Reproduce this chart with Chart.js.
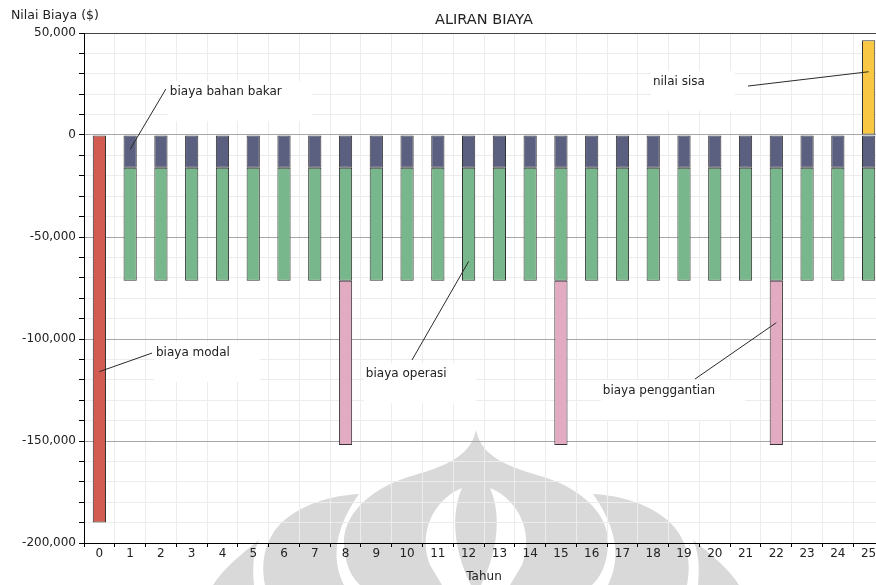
<!DOCTYPE html>
<html>
<head>
<meta charset="utf-8">
<title>Aliran Biaya</title>
<script src="https://cdn.jsdelivr.net/npm/chart.js@4.4.0/dist/chart.umd.min.js"></script>
<style>
  html, body { margin: 0; padding: 0; background: #fff; }
  #wrap { width: 876px; height: 585px; overflow: hidden; position: relative; }
  canvas { display: block; }
</style>
</head>
<body>
<div id="wrap"><canvas id="myChart" width="900" height="585"></canvas></div>
<script>
var tahun = ['0', '1', '2', '3', '4', '5', '6', '7', '8', '9', '10', '11', '12',
             '13', '14', '15', '16', '17', '18', '19', '20', '21', '22', '23', '24', '25'];

var biayaModal = [-190000, null, null, null, null, null, null, null, null, null, null, null, null,
                  null, null, null, null, null, null, null, null, null, null, null, null, null];

var bahanBakar = [null, -16000, -16000, -16000, -16000, -16000, -16000, -16000, -16000, -16000, -16000, -16000, -16000,
                  -16000, -16000, -16000, -16000, -16000, -16000, -16000, -16000, -16000, -16000, -16000, -16000, -16000];

var operasi = [null, -55500, -55500, -55500, -55500, -55500, -55500, -55500, -55500, -55500, -55500, -55500, -55500,
               -55500, -55500, -55500, -55500, -55500, -55500, -55500, -55500, -55500, -55500, -55500, -55500, -55500];

var penggantian = [null, null, null, null, null, null, null, null, -80500, null, null, null, null,
                   null, null, -80500, null, null, null, null, null, null, -80500, null, null, null];

var nilaiSisa = [null, null, null, null, null, null, null, null, null, null, null, null, null,
                 null, null, null, null, null, null, null, null, null, null, null, null, 46500];

// label text, point on bar (index, value), line end, text start
var catatan = [
  { text: 'biaya bahan bakar', at: [1, -7000], end: [2.16, 22500], pos: [2.29, 21000] },
  { text: 'nilai sisa', at: [25, 31000], end: [21.08, 24000], pos: [17.99, 26000] },
  { text: 'biaya modal', at: [0, -116000], end: [1.71, -106900], pos: [1.84, -106900] },
  { text: 'biaya operasi', at: [12, -62000], end: [10.16, -110300], pos: [8.66, -117200] },
  { text: 'biaya penggantian', at: [22, -92000], end: [19.36, -119600], pos: [16.36, -125500] }
];

var FONT = "'DejaVu Sans', Verdana, sans-serif";

var watermark = {
  id: 'watermark',
  beforeDraw: function(chart) {
    var c = chart.ctx;
    var m = function(x) { return 952 - x; };
    c.save();
    c.fillStyle = '#d9d9d9';
    // dome
    c.beginPath();
    c.moveTo(476, 430);
    c.bezierCurveTo(470, 462, 430, 470, 405, 478);
    c.bezierCurveTo(370, 490, 342, 515, 344, 545);
    c.bezierCurveTo(345, 565, 352, 578, 360, 585);
    c.lineTo(m(360), 585);
    c.bezierCurveTo(m(352), 578, m(345), 565, m(344), 545);
    c.bezierCurveTo(m(342), 515, m(370), 490, m(405), 478);
    c.bezierCurveTo(m(430), 470, m(470), 462, 476, 430);
    c.closePath();
    c.fill();
    // petals, both sides
    [function(x) { return x; }, m].forEach(function(f) {
      c.beginPath();
      c.moveTo(f(359), 494);
      c.bezierCurveTo(f(320), 496, f(285), 512, f(272), 535);
      c.bezierCurveTo(f(262), 552, f(262), 570, f(265), 585);
      c.lineTo(f(344), 585);
      c.bezierCurveTo(f(334), 565, f(330), 535, f(359), 494);
      c.closePath();
      c.fill();
      c.beginPath();
      c.moveTo(f(259), 540);
      c.bezierCurveTo(f(240), 555, f(222), 570, f(213), 585);
      c.lineTo(f(254), 585);
      c.bezierCurveTo(f(252), 565, f(254), 550, f(259), 540);
      c.closePath();
      c.fill();
    });
    // hollow lobes
    c.fillStyle = '#ffffff';
    [function(x) { return x; }, m].forEach(function(f) {
      c.beginPath();
      c.moveTo(f(462), 488);
      c.bezierCurveTo(f(432), 500, f(418), 535, f(430), 565);
      c.lineTo(f(442), 585);
      c.lineTo(f(471), 585);
      c.bezierCurveTo(f(458), 560, f(448), 520, f(462), 488);
      c.closePath();
      c.fill();
    });
    c.restore();
  }
};

var teks = {
  id: 'teks',
  afterDatasetsDraw: function(chart) {
    var c = chart.ctx;
    var sx = chart.scales.x, sy = chart.scales.y;
    c.save();
    c.font = '12px ' + FONT;
    c.textBaseline = 'middle';
    catatan.forEach(function(n) {
      var tx = sx.getPixelForValue(n.pos[0]), ty = sy.getPixelForValue(n.pos[1]);
      var w = c.measureText(n.text).width;
      c.fillStyle = '#ffffff';
      c.fillRect(tx - 2, ty - 11, w + 32, 40);
    });
    catatan.forEach(function(n) {
      c.strokeStyle = '#2a2a2a';
      c.lineWidth = 1;
      c.beginPath();
      c.moveTo(sx.getPixelForValue(n.at[0]), sy.getPixelForValue(n.at[1]));
      c.lineTo(sx.getPixelForValue(n.end[0]), sy.getPixelForValue(n.end[1]));
      c.stroke();
      c.fillStyle = '#222';
      c.fillText(n.text, sx.getPixelForValue(n.pos[0]), sy.getPixelForValue(n.pos[1]));
    });
    c.restore();
  },
  afterDraw: function(chart) {
    var c = chart.ctx;
    c.save();
    c.font = '12.5px ' + FONT;
    c.fillStyle = '#222';
    c.textBaseline = 'middle';
    c.textAlign = 'left';
    c.fillText('Nilai Biaya ($)', 11, 16);
    c.font = '14.5px ' + FONT;
    c.textAlign = 'center';
    c.fillText('ALIRAN BIAYA', 484, 20);
    c.restore();
  }
};

var ctx = document.getElementById('myChart');

var myChart = new Chart(ctx, {
  type: 'bar',
  data: {
    labels: tahun,
    datasets: [
      { label: 'biaya bahan bakar', data: bahanBakar, backgroundColor: '#5b5f80' },
      { label: 'biaya operasi', data: operasi, backgroundColor: '#78b68b' },
      { label: 'biaya penggantian', data: penggantian, backgroundColor: '#e3abc1' },
      { label: 'biaya modal', data: biayaModal, backgroundColor: '#d35c52' },
      { label: 'nilai sisa', data: nilaiSisa, backgroundColor: '#f8c844' }
    ]
  },
  options: {
    responsive: false,
    animation: false,
    devicePixelRatio: 1,
    layout: { padding: { top: 33, right: 16, left: 0, bottom: 0 } },
    datasets: {
      bar: {
        borderColor: '#333',
        borderWidth: 1,
        borderSkipped: false,
        barPercentage: 0.43,
        categoryPercentage: 1
      }
    },
    plugins: {
      legend: { display: false },
      tooltip: { enabled: false },
      title: { display: false }
    },
    scales: {
      x: {
        stacked: true,
        afterFit: function(s) { s.height = 42; },
        grid: { color: '#ececec', tickColor: '#000', tickLength: 4, offset: true },
        border: { color: '#000', width: 1 },
        ticks: { color: '#222', font: { size: 12, family: FONT }, padding: 0, autoSkip: false, maxRotation: 0 },
        title: { display: true, text: 'Tahun', color: '#222', font: { size: 12, family: FONT }, padding: { top: 0, bottom: 1 } }
      },
      y: {
        stacked: true,
        min: -200000,
        max: 50000,
        afterFit: function(s) { s.width = 84; },
        grid: {
          tickColor: '#000',
          tickLength: 5,
          color: function(c) {
            var v = c.tick.value;
            if (v === 50000) return '#444';
            return v % 50000 === 0 ? '#a8a8a8' : '#ececec';
          }
        },
        border: { color: '#000', width: 1 },
        ticks: {
          stepSize: 10000,
          autoSkip: false,
          padding: 3,
          color: '#222',
          font: { size: 12, family: FONT },
          callback: function(v) { return v % 50000 === 0 ? v.toLocaleString('en-US') : ''; }
        }
      }
    }
  },
  plugins: [watermark, teks]
});
</script>
</body>
</html>
